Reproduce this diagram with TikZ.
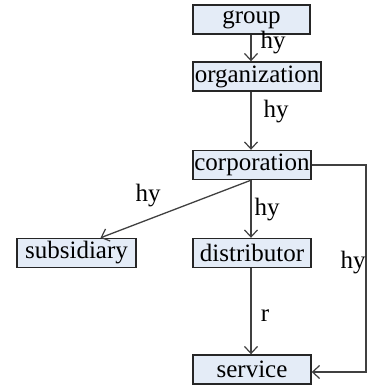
\documentclass[tikz,border=0pt]{standalone}
\usepackage{fontspec}
\setmainfont{Liberation Serif}
\usetikzlibrary{arrows.meta}
\definecolor{boxfill}{HTML}{E4ECF7}
\definecolor{edge}{HTML}{404040}
\begin{document}
\begin{tikzpicture}[x=1pt,y=-1pt,
  box/.style={draw=black!85,line width=1.4pt,fill=boxfill,inner sep=0pt,minimum height=29pt,font=\fontsize{25}{25}\selectfont},
  conn/.style={draw=edge,line width=1.3pt,-{Straight Barb[length=7pt,width=13pt,line width=1.2pt]}},
  lbl/.style={font=\fontsize{25}{25}\selectfont,inner sep=0pt}]
\useasboundingbox (0,0) rectangle (370,390);
\node[box,minimum width=117pt] (group) at (251.5,19.5) {group};
\node[box,minimum width=128pt] (org) at (257,76.5) {organization};
\node[box,minimum width=118pt] (corp) at (252,165) {corporation};
\node[box,minimum width=119pt] (sub) at (76.5,253) {subsidiary};
\node[box,minimum width=118pt] (dist) at (252,253) {distributor};
\node[box,minimum width=118pt] (serv) at (252,369.5) {service};
\coordinate (c1) at (366,165);
\coordinate (c2) at (366,372);
\draw[conn] (group.south -| 251,0) -- (org.north -| 251,0);
\draw[conn] (org.south -| 251,0) -- (corp.north -| 251,0);
\draw[conn] (corp.south -| 251,0) -- ([xshift=24pt]sub.north);
\draw[conn] (corp.south -| 251,0) -- (dist.north -| 251,0);
\draw[conn] (dist.south -| 251,0) -- (serv.north -| 251,0);
\draw[conn] (corp.east) -- (c1) -- (c2) -- (serv.east |- c2);
\node[lbl] (l1) at (273,43) {hy};
\node[lbl] (l2) at (276,112) {hy};
\node[lbl] (l3) at (148,196) {hy};
\node[lbl] (l4) at (267,210) {hy};
\node[lbl] (l5) at (265,316) {r};
\node[lbl] (l6) at (353,263) {hy};
\end{tikzpicture}
\end{document}
